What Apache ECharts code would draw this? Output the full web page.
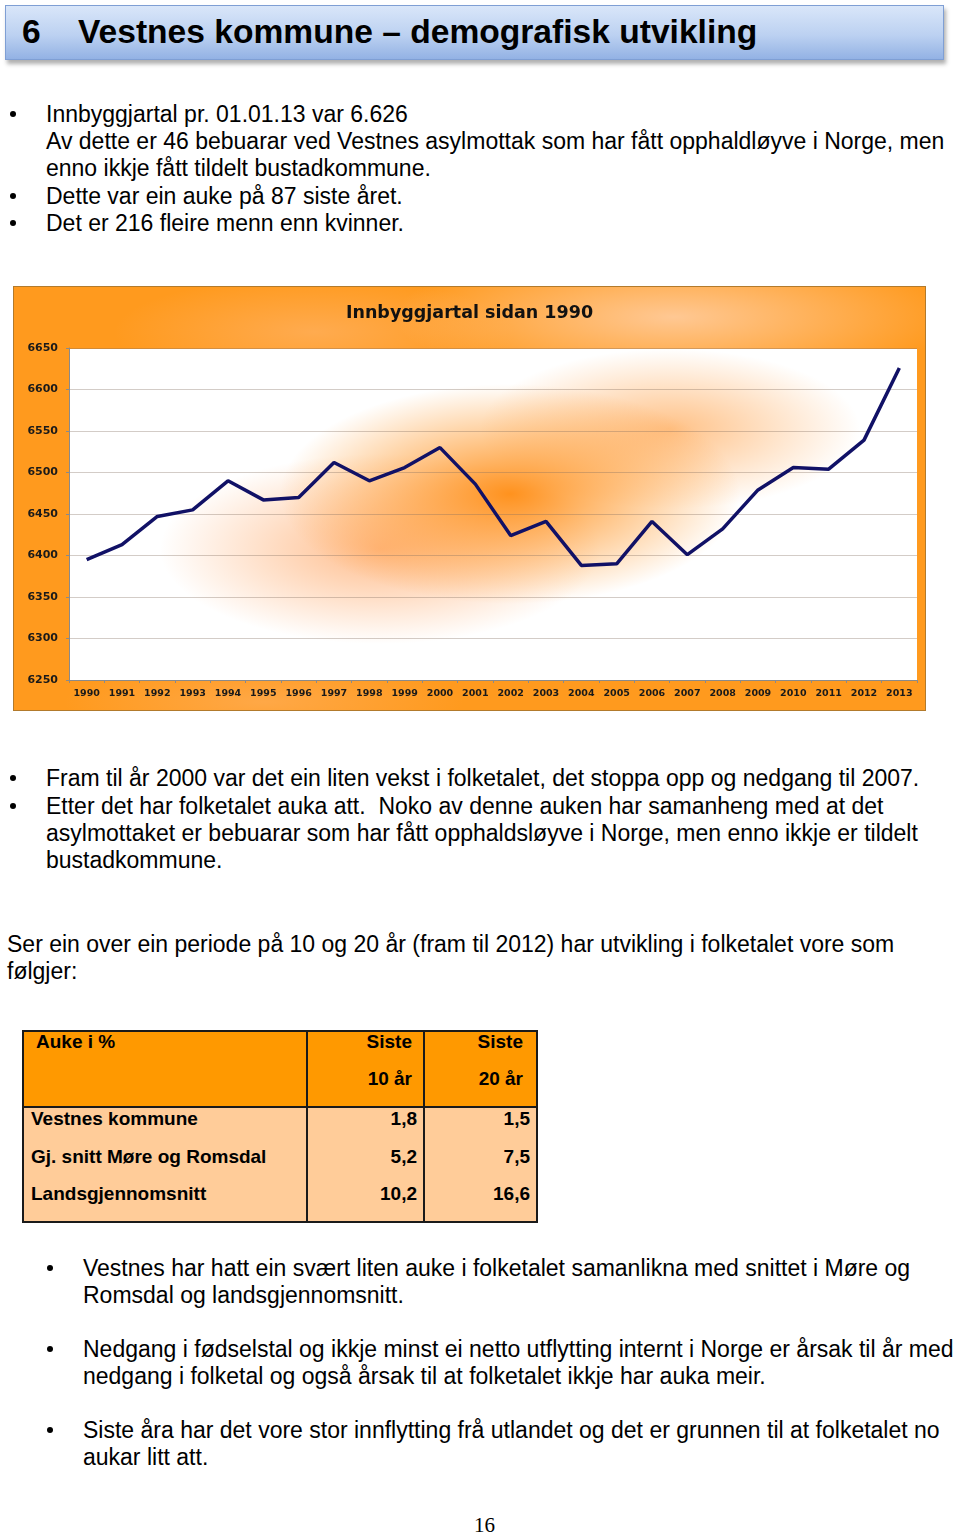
<!DOCTYPE html>
<html>
<head>
<meta charset="utf-8">
<script src="https://cdn.jsdelivr.net/npm/echarts@6/dist/echarts.min.js"></script>
<style>
  html, body { margin:0; padding:0; background:#fff; }
  body { width:960px; height:1537px; position:relative; overflow:hidden; font-family:"Liberation Sans", Arial, sans-serif; color:#000; }
  .abs { position:absolute; white-space:nowrap; }
  .hdr { position:absolute; left:5px; top:5px; width:939px; height:55px; box-sizing:border-box;
         border:1px solid #7f9fd4; background:linear-gradient(#d9e6f9, #bcd1f1 55%, #93b2e4);
         box-shadow: 2px 4px 4px rgba(80,80,80,0.45); }
  .hdr span { position:absolute; top:6px; font-weight:bold; font-size:33.6px; line-height:40px; }
  .t { position:absolute; white-space:nowrap; font-size:23px; line-height:27px; }
  .dot { position:absolute; width:6px; height:6px; border-radius:50%; background:#000; }
  #chartBox { position:absolute; left:13px; top:286px; width:913px; height:425px; box-sizing:border-box;
      border:1px solid #b27a2c;
      background:
        radial-gradient(ellipse 280px 70px at 660px 30px, rgba(255,205,160,0.9), rgba(255,205,160,0)),
        radial-gradient(ellipse 200px 55px at 300px 45px, rgba(255,185,120,0.55), rgba(255,185,120,0)),
        radial-gradient(ellipse 200px 40px at 250px 415px, rgba(255,185,120,0.45), rgba(255,185,120,0)),
        #ff9a1e; }
  #plotBg { position:absolute; left:56px; top:62px; width:847px; height:331px;
      background:
        radial-gradient(ellipse 230px 110px at 440px 145px, rgba(255,146,30,1), rgba(255,155,50,0)),
        radial-gradient(ellipse 220px 95px at 310px 200px, rgba(255,160,90,0.7), rgba(255,165,100,0)),
        radial-gradient(ellipse 190px 80px at 600px 80px, rgba(255,160,70,0.65), rgba(255,160,70,0)),
        #fff; }
  #chart { position:absolute; left:0; top:0; width:911px; height:423px; }
  .tbtxt { position:absolute; white-space:nowrap; font-weight:bold; font-size:19px; line-height:24px; }
  .tbtxt.r { text-align:right; }
</style>
</head>
<body>
<div class="hdr">
  <span style="left:16px;">6</span>
  <span style="left:72px;">Vestnes kommune – demografisk utvikling</span>
</div>

<div class="dot" style="left:10px;top:111px"></div>
<div class="t" style="left:46px;top:101px">Innbyggjartal pr. 01.01.13 var 6.626</div>
<div class="t" style="left:46px;top:128px">Av dette er 46 bebuarar ved Vestnes asylmottak som har fått opphaldløyve i Norge, men</div>
<div class="t" style="left:46px;top:155px">enno ikkje fått tildelt bustadkommune.</div>
<div class="dot" style="left:10px;top:193px"></div>
<div class="t" style="left:46px;top:183px">Dette var ein auke på 87 siste året.</div>
<div class="dot" style="left:10px;top:220px"></div>
<div class="t" style="left:46px;top:210px">Det er 216 fleire menn enn kvinner.</div>

<div id="chartBox">
  <div id="plotBg"></div>
  <div id="chart"></div>
</div>

<div class="dot" style="left:10px;top:775px"></div>
<div class="t" style="left:46px;top:765px">Fram til år 2000 var det ein liten vekst i folketalet, det stoppa opp og nedgang til 2007.</div>
<div class="dot" style="left:10px;top:803px"></div>
<div class="t" style="left:46px;top:793px">Etter det har folketalet auka att.&nbsp; Noko av denne auken har samanheng med at det</div>
<div class="t" style="left:46px;top:820px">asylmottaket er bebuarar som har fått opphaldsløyve i Norge, men enno ikkje er tildelt</div>
<div class="t" style="left:46px;top:847px">bustadkommune.</div>

<div class="t" style="left:7px;top:931px">Ser ein over ein periode på 10 og 20 år (fram til 2012) har utvikling i folketalet vore som</div>
<div class="t" style="left:7px;top:958px">følgjer:</div>

<!-- table frame -->
<div style="position:absolute;left:22px;top:1030px;width:516px;height:77px;background:#ff9900;"></div>
<div style="position:absolute;left:22px;top:1107px;width:516px;height:116px;background:#ffcc99;"></div>
<div style="position:absolute;left:22px;top:1030px;width:516px;height:193px;box-sizing:border-box;border:2px solid #1a1a1a;"></div>
<div style="position:absolute;left:22px;top:1106px;width:516px;height:2px;background:#1a1a1a;"></div>
<div style="position:absolute;left:306px;top:1030px;width:2px;height:193px;background:#1a1a1a;"></div>
<div style="position:absolute;left:423px;top:1030px;width:2px;height:193px;background:#1a1a1a;"></div>
<div id="tbl"></div>

<div class="dot" style="left:47px;top:1265px"></div>
<div class="t" style="left:83px;top:1255px">Vestnes har hatt ein svært liten auke i folketalet samanlikna med snittet i Møre og</div>
<div class="t" style="left:83px;top:1282px">Romsdal og landsgjennomsnitt.</div>
<div class="dot" style="left:47px;top:1346px"></div>
<div class="t" style="left:83px;top:1336px">Nedgang i fødselstal og ikkje minst ei netto utflytting internt i Norge er årsak til år med</div>
<div class="t" style="left:83px;top:1363px">nedgang i folketal og også årsak til at folketalet ikkje har auka meir.</div>
<div class="dot" style="left:47px;top:1427px"></div>
<div class="t" style="left:83px;top:1417px">Siste åra har det vore stor innflytting frå utlandet og det er grunnen til at folketalet no</div>
<div class="t" style="left:83px;top:1444px">aukar litt att.</div>

<div class="abs" style="left:474px;top:1513px;font-family:'Liberation Serif',serif;font-size:21px;">16</div>

<script>
// ---- chart data ----
const years = ['1990','1991','1992','1993','1994','1995','1996','1997','1998','1999','2000','2001',
               '2002','2003','2004','2005','2006','2007','2008','2009','2010','2011','2012','2013'];
const population = [6395, 6413, 6447, 6455, 6490, 6467, 6470, 6512, 6490, 6506, 6530, 6486,
                    6424, 6441, 6388, 6390, 6441, 6401, 6432, 6479, 6506, 6504, 6539, 6626];
const yTicks = [6250, 6300, 6350, 6400, 6450, 6500, 6550, 6600, 6650];

// ---- table data ----
const tableTitle = 'Auke i %';
const colHead1 = ['Siste', '10 år'];
const colHead2 = ['Siste', '20 år'];
const tableRows = ['Vestnes kommune', 'Gj. snitt Møre og Romsdal', 'Landsgjennomsnitt'];
const last10 = ['1,8', '5,2', '10,2'];
const last20 = ['1,5', '7,5', '16,6'];

// place table text
(function(){
  const host = document.getElementById('tbl');
  function put(txt, x, yc, right) {
    const d = document.createElement('div');
    d.className = 'tbtxt' + (right ? ' r' : '');
    d.textContent = txt;
    d.style.top = (yc - 12) + 'px';
    if (right) { d.style.right = (960 - x) + 'px'; } else { d.style.left = x + 'px'; }
    host.appendChild(d);
  }
  put(tableTitle, 36, 1042, false);
  put(colHead1[0], 412, 1042, true); put(colHead1[1], 412, 1079, true);
  put(colHead2[0], 523, 1042, true); put(colHead2[1], 523, 1079, true);
  const ys = [1119, 1157, 1194];
  tableRows.forEach((r, i) => {
    put(r, 31, ys[i], false);
    put(last10[i], 417, ys[i], true);
    put(last20[i], 530, ys[i], true);
  });
})();

const chart = echarts.init(document.getElementById('chart'), null, {renderer:'canvas'});
chart.setOption({
  backgroundColor: 'transparent',
  animation: false,
  title: {
    text: 'Innbyggjartal sidan 1990',
    left: 'center', top: 12,
    textStyle: { fontFamily: 'DejaVu Sans', fontWeight: 'bold', fontSize: 17.5, color: '#111' }
  },
  grid: { left: 55, top: 61, right: 8, bottom: 30 },
  xAxis: {
    type: 'category', data: years, boundaryGap: true,
    axisLine: { lineStyle: { color: '#8a8a8a', width: 1 } },
    axisTick: { show: true, length: 3, lineStyle: { color: '#8a8a8a' } },
    axisLabel: { margin: 9, fontFamily: 'DejaVu Sans', fontWeight: 'bold', fontSize: 9.5, color: '#1a1a1a', interval: 0 }
  },
  yAxis: {
    type: 'value', min: 6250, max: 6650, interval: 50,
    axisLine: { show: true, lineStyle: { color: '#8a8a8a', width: 1 } },
    axisTick: { show: true, length: 3, lineStyle: { color: '#8a8a8a' } },
    axisLabel: { margin: 11, fontFamily: 'DejaVu Sans', fontWeight: 'bold', fontSize: 11, color: '#1a1a1a',
                 formatter: v => yTicks.includes(v) ? String(v) : '' },
    splitLine: { show: true, lineStyle: { color: 'rgba(130,110,95,0.35)', width: 1 } }
  },
  series: [{
    type: 'line', data: population, symbol: 'none',
    lineStyle: { color: '#111166', width: 3.5 }
  }]
});
</script>
</body>
</html>
